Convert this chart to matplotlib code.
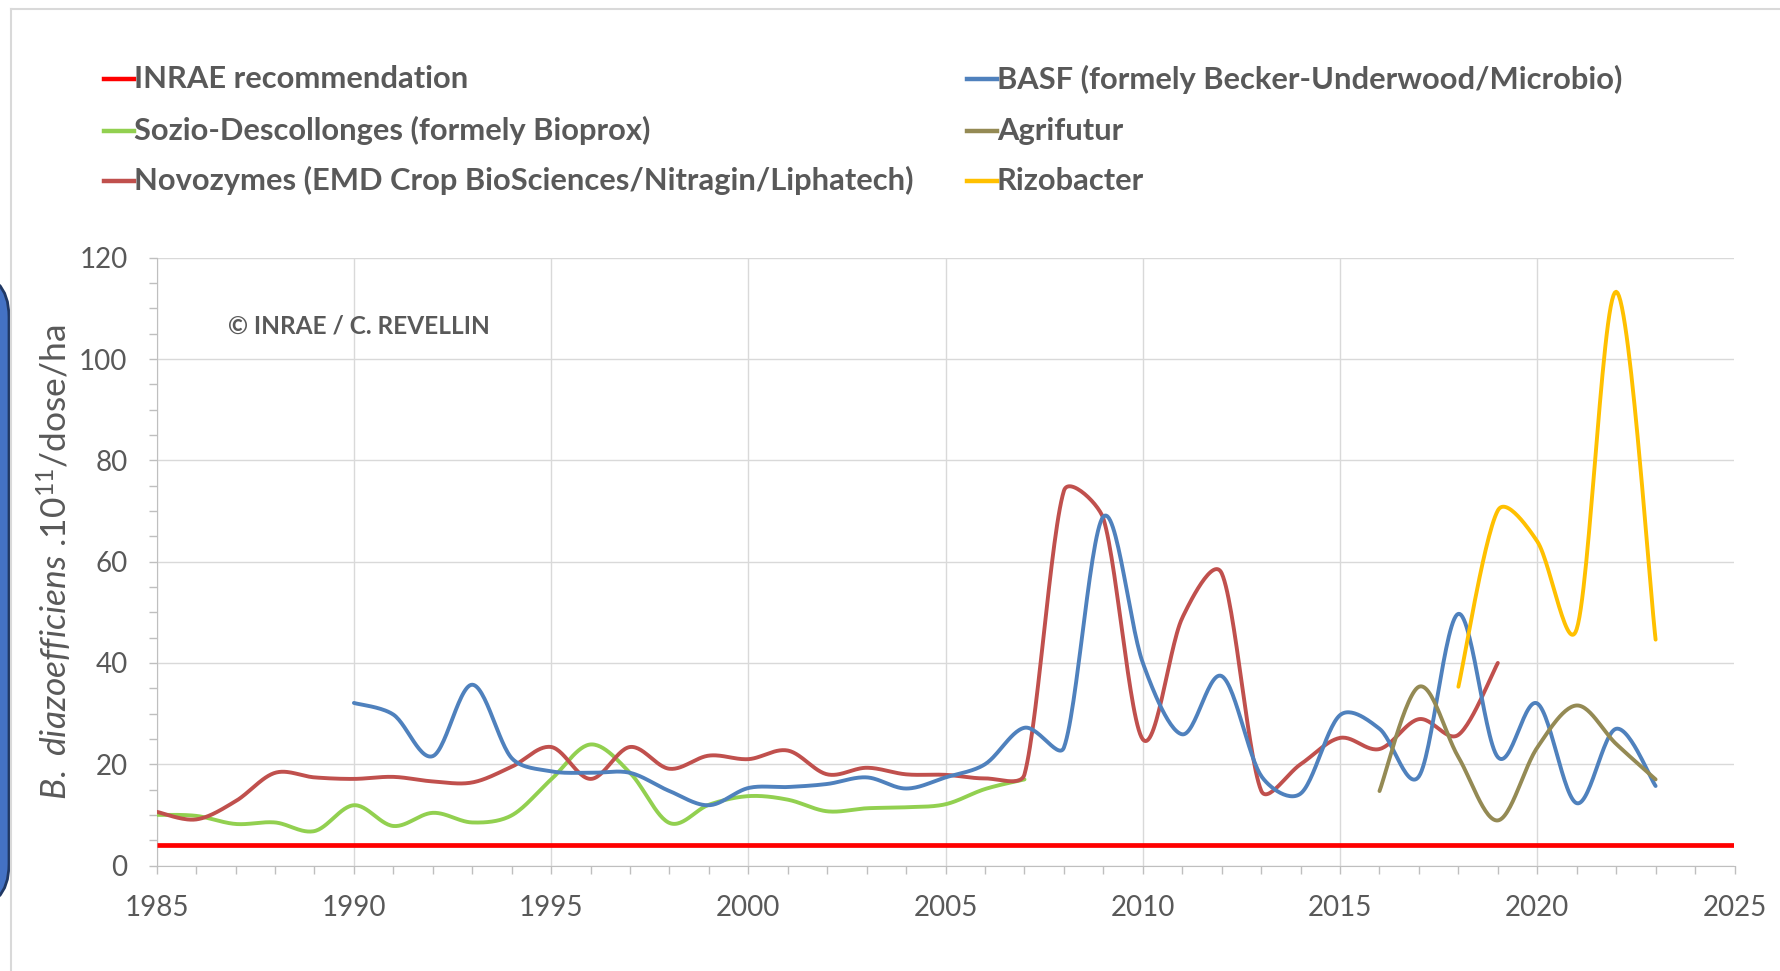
import numpy as np
import matplotlib
matplotlib.use('Agg')
import matplotlib.pyplot as plt
from matplotlib.lines import Line2D
from matplotlib.patches import FancyBboxPatch
from matplotlib.transforms import IdentityTransform
from matplotlib.ticker import MultipleLocator

plt.rcParams['font.family'] = ['Lato', 'DejaVu Sans']
plt.rcParams['mathtext.fontset'] = 'custom'
plt.rcParams['mathtext.rm'] = 'Lato'
plt.rcParams['mathtext.it'] = 'Lato:italic'

TXT = '#595959'
W, H = 1781, 971

# --- data ---
inrae_years = [1985, 2025]
inrae_vals = [4, 4]

sozio_years = list(range(1985, 2008))
sozio_vals = [10, 9.8, 8.2, 8.5, 6.8, 11.9, 7.8, 10.4, 8.5, 9.9, 17, 23.9,
              18.3, 8.4, 12, 13.7, 13.0, 10.7, 11.3, 11.5, 12.1, 15.1, 17]

basf_years = list(range(1990, 2024))
basf_vals = [32.1, 29.8, 21.6, 35.7, 21.2, 18.6, 18.3, 18.3, 14.7, 11.9, 15.3,
             15.5, 16.1, 17.4, 15.2, 17.4, 20, 27.2, 23.3, 68.9, 40, 25.9, 37.4,
             17.7, 14.2, 29.7, 27, 17.6, 49.7, 21.4, 32, 12.3, 27, 15.7]

novo_years = list(range(1985, 2020))
novo_vals = [10.6, 9.1, 12.7, 18.3, 17.4, 17.1, 17.5, 16.6, 16.4, 19.5, 23.4,
             17.1, 23.4, 19.1, 21.7, 21, 22.7, 18, 19.3, 18, 17.9, 17.2, 18, 74,
             68.5, 24.9, 48.9, 57.7, 14.8, 20, 25.2, 23, 28.9, 25.8, 40]

agri_years = list(range(2016, 2024))
agri_vals = [14.7, 35.3, 21.4, 8.9, 23.3, 31.6, 24, 17]

rizo_years = list(range(2018, 2024))
rizo_vals = [35.3, 70.1, 64, 46.7, 113.3, 44.6]

series = [
    ('INRAE recommendation', inrae_years, inrae_vals, '#FF0000'),
    ('Sozio-Descollonges (formely Bioprox)', sozio_years, sozio_vals, '#92D050'),
    ('Novozymes (EMD Crop BioSciences/Nitragin/Liphatech)', novo_years, novo_vals, '#C0504D'),
    ('BASF (formely Becker-Underwood/Microbio)', basf_years, basf_vals, '#4F81BD'),
    ('Agrifutur', agri_years, agri_vals, '#948A54'),
    ('Rizobacter', rizo_years, rizo_vals, '#FFC000'),
]


def smooth(ax, xs, ys, n=30):
    # Excel-like smoothed line: Catmull-Rom bezier in screen space,
    # control arm clamped to a third of the adjacent segment
    p = ax.transData.transform(np.column_stack([xs, ys]))
    m = len(p)
    if m < 3:
        return xs, ys
    tang = []
    for i in range(m):
        a = p[i - 1] if i > 0 else p[i]
        b = p[i + 1] if i + 1 < m else p[i]
        tang.append((b - a) / 6)
    out = [p[0]]
    for i in range(m - 1):
        a, b = p[i], p[i + 1]
        seg = np.hypot(*(b - a))
        ta, tb = tang[i], tang[i + 1]
        la, lb = np.hypot(*ta), np.hypot(*tb)
        if la > seg / 3:
            ta = ta * (seg / 3) / la
        if lb > seg / 3:
            tb = tb * (seg / 3) / lb
        c1 = a + ta
        c2 = b - tb
        t = np.linspace(0, 1, n)[1:, None]
        out.extend((1 - t) ** 3 * a + 3 * (1 - t) ** 2 * t * c1 + 3 * (1 - t) * t ** 2 * c2 + t ** 3 * b)
    d = ax.transData.inverted().transform(np.array(out))
    return d[:, 0], d[:, 1]


fig = plt.figure(figsize=(W / 100, H / 100), dpi=100)
ax = fig.add_axes([156.7 / W, 1 - 865.5 / H, (1734.5 - 156.7) / W, (865.5 - 257.8) / H])
ax.set_xlim(1985, 2025)
ax.set_ylim(0, 120)

for label, xs, ys, col in series:
    if label.startswith('INRAE'):
        ax.plot(xs, ys, color=col, lw=3.4, solid_capstyle='butt', zorder=3)
    else:
        sx, sy = smooth(ax, xs, ys)
        ax.plot(sx, sy, color=col, lw=2.8, solid_capstyle='round', zorder=3)

ax.set_xticks(range(1985, 2026, 5))
ax.set_yticks(range(0, 121, 20))
ax.xaxis.set_minor_locator(MultipleLocator(1))
ax.yaxis.set_minor_locator(MultipleLocator(5))
ax.grid(True, which='major', color='#D9D9D9', lw=1.0)
ax.set_axisbelow(True)
ax.tick_params(which='both', direction='out', length=6, width=1, color='#BFBFBF')
ax.tick_params(axis='both', which='major', labelsize=20, labelcolor=TXT, pad=15)
for s in ['top', 'right']:
    ax.spines[s].set_visible(False)
for s in ['left', 'bottom']:
    ax.spines[s].set_color('#BFBFBF')

ax.text(0.0455, 0.888, '\u00a9 INRAE / C. REVELLIN', transform=ax.transAxes,
        fontsize=17.6, fontweight='bold', color=TXT, va='center', ha='left')

fig.text(54.5 / W, 1 - 562 / H, r'$\mathit{B.}$ $\mathit{diazoefficiens}$ .10$^{11}$/dose/ha',
         rotation=90, ha='center', va='center', fontsize=25.5, color=TXT)

# legend, two columns of three
col_x = [104, 967]
row_y = [79.5, 130.6, 180.6]
for i, (label, xs, ys, col) in enumerate(series):
    x0 = col_x[i // 3]
    y0 = 1 - row_y[i % 3] / H
    fig.add_artist(Line2D([x0 / W, (x0 + 30) / W], [y0, y0], color=col, lw=3.2,
                          transform=fig.transFigure))
    fig.text((x0 + 30) / W, y0, label, fontsize=22.2, fontweight='bold', color=TXT,
             ha='left', va='center')

# frame of the slide and the blue shape at the left
fig.add_artist(Line2D([11 / W, 1], [1 - 9 / H, 1 - 9 / H], color='#D9D9D9', lw=1.5,
                      transform=fig.transFigure))
fig.add_artist(Line2D([11 / W, 11 / W], [0, 1 - 9 / H], color='#D9D9D9', lw=1.5,
                      transform=fig.transFigure))
fig.add_artist(FancyBboxPatch((-60, 62), 69, 637, boxstyle='round,pad=0,rounding_size=45',
                              facecolor='#4472C4', edgecolor='#203864', lw=2,
                              transform=IdentityTransform()))

fig.savefig('out.png', dpi=100)
